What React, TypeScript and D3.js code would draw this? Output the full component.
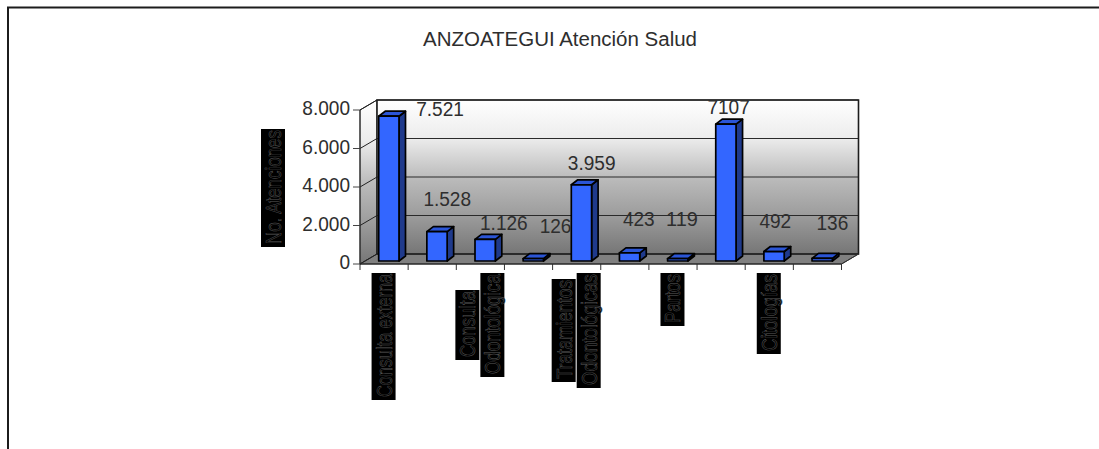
import React from "react";
import * as d3 from "d3";

const title = "ANZOATEGUI Atención Salud";
const yAxisTitle = "No. Atenciones";
const categoryIds = ["c0", "c1", "c2", "c3", "c4", "c5", "c6", "c7", "c8", "c9"];
const values = [7521, 1528, 1126, 126, 3959, 423, 119, 7107, 492, 136];
const valueLabels = ["7.521", "1.528", "1.126", "126", "3.959", "423", "119", "7107", "492", "136"];
const yTicks = [0, 2000, 4000, 6000, 8000];
const yTickLabels = ["0", "2.000", "4.000", "6.000", "8.000"];
const shownCategoryLabels: Record<string, string[]> = {
  c0: ["Consulta externa"],
  c2: ["Consulta", "Odontológica"],
  c4: ["Tratamientos", "Odontológicas"],
  c6: ["Partos"],
  c8: ["Citologías"],
};

// layout-only tables
const labelNudgeX = [56, 15, 23.5, 27, 15, 14, 9, 7.5, 6, 15];
const labelNudgeY = [-3, -29, -12, -29, -18, -30, -36, -13, -27, -31];
const boxLengths: Record<string, number> = {
  "Consulta externa": 127,
  Consulta: 70,
  "Odontológica": 104,
  Tratamientos: 103,
  "Odontológicas": 115,
  Partos: 53,
  "Citologías": 81,
};

const W = 1099;
const H = 449;
const floorY = 264;
const topY = 110;
const left = 360;
const right = 841.5;
const depthX = 17;
const depthY = 10;
const barDX = 6.5;
const barDY = 5;

const y = d3.scaleLinear().domain([0, 8000]).range([floorY, topY]);
const x = d3.scaleBand<string>().domain(categoryIds).range([left, right]).paddingInner(0).paddingOuter(0);

const poly = (pts: [number, number][]) => pts.map((p) => p.join(",")).join(" ");
const font = "'Liberation Sans', Arial, sans-serif";
const ink = "#2e2e2e";
const numberSize = 20.5;
const digitWidth = 10.6;

function numberWidth(s: string) {
  return Array.from(s).reduce((a, ch) => a + (ch === "." ? digitWidth / 2 : digitWidth), 0);
}

function AxisBox({ cx, length, top, text }: { cx: number; length: number; top: number; text: string }) {
  const boxW = 24;
  const base = cx + 20;
  const yBottom = top + length;
  return (
    <g>
      <rect x={cx} y={top} width={boxW} height={length} fill="#000" />
      <text
        transform={`translate(${base},${yBottom - 3}) rotate(-90)`}
        textLength={length - 4}
        lengthAdjust="spacingAndGlyphs"
        fontFamily={font}
        fontSize={22}
        fill="#000"
        stroke="#5c5c5c"
        strokeWidth={0.5}
      >
        {text}
      </text>
    </g>
  );
}

export default function App() {
  const bw = x.bandwidth();
  return (
    <svg width={W} height={H} viewBox={`0 0 ${W} ${H}`} style={{ position: "absolute", left: 0, top: 0, display: "block", background: "#fff" }}>
      <defs>
        <linearGradient id="wall" x1="0" y1="0" x2="0" y2="1">
          <stop offset="0" stopColor="#ffffff" />
          <stop offset="0.25" stopColor="#ececec" />
          <stop offset="0.5" stopColor="#bcbcbc" />
          <stop offset="0.75" stopColor="#9c9c9c" />
          <stop offset="1" stopColor="#767676" />
        </linearGradient>
      </defs>

      <path d={`M${W},7.5 H8 V${H}`} fill="none" stroke="#1c1c1c" strokeWidth={2} />

      <text x={560} y={46} textAnchor="middle" textLength={274} lengthAdjust="spacingAndGlyphs" fontFamily={font} fontSize={20} fill={ink}>
        {title}
      </text>

      {/* walls */}
      <polygon points={poly([[left, topY], [left + depthX, topY - depthY], [left + depthX, floorY - depthY], [left, floorY]])} fill="url(#wall)" stroke="#222" strokeWidth={1} />
      <rect x={left + depthX} y={topY - depthY} width={right - left} height={floorY - topY} fill="url(#wall)" />
      <polygon points={poly([[left, floorY], [right, floorY], [right + depthX, floorY - depthY], [left + depthX, floorY - depthY]])} fill="#808080" stroke="#333" strokeWidth={1} />

      {yTicks.map((t, i) => (
        <g key={t}>
          {t > 0 && <line x1={left + depthX} x2={right + depthX} y1={y(t) - depthY} y2={y(t) - depthY} stroke="#2a2a2a" strokeWidth={1} />}
          <line x1={left} x2={left + depthX} y1={y(t)} y2={y(t) - depthY} stroke="#222" strokeWidth={1} />
          <line x1={left - 7} x2={left} y1={y(t)} y2={y(t)} stroke="#444" strokeWidth={1} />
          <text
            x={350}
            y={y(t) + 5}
            textAnchor="end"
            textLength={numberWidth(yTickLabels[i])}
            lengthAdjust="spacingAndGlyphs"
            fontFamily={font}
            fontSize={numberSize}
            fill={ink}
          >
            {yTickLabels[i]}
          </text>
        </g>
      ))}
      <path d={`M${left + depthX},${floorY - depthY} V${topY - depthY} H${right + depthX} V${floorY - depthY} H${left + depthX}`} fill="none" stroke="#1c1c1c" strokeWidth={1.6} />
      <path d={`M${left},${floorY} V${topY}`} stroke="#333" strokeWidth={1} fill="none" />
      <path d={`M${right},${floorY} L${right + depthX},${floorY - depthY}`} stroke="#333" strokeWidth={1} />

      {/* x ticks */}
      {categoryIds.map((c) => (
        <line key={c} x1={x(c)!} x2={x(c)!} y1={floorY} y2={floorY + 6} stroke="#333" strokeWidth={1} />
      ))}
      <line x1={right} x2={right} y1={floorY} y2={floorY + 6} stroke="#333" strokeWidth={1} />
      <line x1={left} x2={right} y1={floorY} y2={floorY} stroke="#222" strokeWidth={1} />

      {/* bars */}
      {values.map((v, i) => {
        const c = categoryIds[i];
        const x0 = x(c)! + 18.7;
        const x1 = x0 + 20.3;
        const yb = floorY - 3;
        const yt = y(v) - 3;
        return (
          <g key={c} stroke="#000" strokeWidth={1.7} strokeLinejoin="round">
            <polygon points={poly([[x1, yt], [x1 + barDX, yt - barDY], [x1 + barDX, yb - barDY], [x1, yb]])} fill="#1f3a8c" />
            <polygon points={poly([[x0, yt], [x1, yt], [x1 + barDX, yt - barDY], [x0 + barDX, yt - barDY]])} fill="#2b55d6" />
            <rect x={x0} y={yt} width={x1 - x0} height={yb - yt} fill="#3366ff" />
          </g>
        );
      })}

      {/* value labels */}
      {values.map((v, i) => (
        <text
          key={categoryIds[i]}
          x={x(categoryIds[i])! + bw / 2 + labelNudgeX[i]}
          y={y(v) + labelNudgeY[i]}
          textAnchor="middle"
          textLength={numberWidth(valueLabels[i])}
          lengthAdjust="spacingAndGlyphs"
          fontFamily={font}
          fontSize={numberSize}
          fill={ink}
        >
          {valueLabels[i]}
        </text>
      ))}

      {/* y title */}
      <AxisBox cx={261} top={129} length={118} text={yAxisTitle} />

      {/* category labels */}
      {Object.entries(shownCategoryLabels).map(([c, lines]) => {
        const cx = x(c)! + bw / 2;
        const maxLen = Math.max(...lines.map((l) => boxLengths[l]));
        const center = 273 + maxLen / 2;
        return lines.map((l, j) => {
          const len = boxLengths[l];
          const bx = cx - (lines.length * 25) / 2 + j * 25;
          return <AxisBox key={l} cx={bx} top={center - len / 2} length={len} text={l} />;
        });
      })}
    </svg>
  );
}
